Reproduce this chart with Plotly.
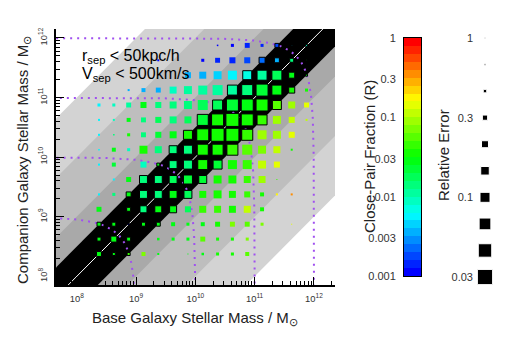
import colorsys

import numpy as np
import plotly.graph_objects as go

# the page body has an 8px margin, so the figure is drawn 8px smaller and
# every reference pixel position is shifted by that offset
W, H, OFF = 504, 334, 8
FONT = 'Liberation Sans, Arial, sans-serif'
PURPLE = '#a050f0'

# log10 stellar mass at the centre of each grid bin
mass_bins = [8.375, 8.625, 8.875, 9.125, 9.375, 9.625, 9.875, 10.125,
             10.375, 10.625, 10.875, 11.125, 11.375, 11.625, 11.875]

_ = None
# close-pair fraction R, one row per companion-mass bin (first row = top, 11.875)
# columns follow base-mass bins 8.375 -> 11.875, None = empty bin
frac_rows = [
    [_, _, _, _, _, _, _, _, .0012, .0012, .0014, .0014, .0016, .004, .008],
    [_, _, _, _, .0012, _, _, .0012, .0013, .0015, .0018, .0024, .0038, .015, .02],
    [_, _, _, _, _, _, .0036, .0039, .0047, .0056, .0077, .012, .016, .03, .03],
    [_, _, .0036, .0036, .0036, .0087, .011, .011, .011, .012, .013, .02, .03, .032, .032],
    [.0056, .0087, .011, .03, .013, .013, .013, .016, .016, .02, .03, .032, .06, .094, .13],
    [.0056, .0087, .03, .013, .016, .013, .016, .02, .032, .032, .032, .049, .084, .115, .1],
    [.0056, .013, .032, .013, .02, .03, .032, .032, .032, .032, .049, .084, .094, .13, _],
    [.0056, .03, .0087, .032, .013, .013, .013, .032, .032, .04, .061, .075, .115, .032, _],
    [.0056, .025, _, .0087, .03, .013, .013, .032, .02, .032, .049, .1, .14, _, _],
    [_, .0056, .03, .013, .013, .016, .02, .025, .032, .032, .049, .094, .04, _, _],
    [.0056, .013, .03, .013, .013, .03, .016, .032, .032, .032, .049, .035, .178, .35, _],
    [.03, _, .03, .013, .03, .03, .016, .049, .049, .032, .115, .035, _, _, _],
    [.03, .03, .0012, .03, .03, .03, .03, .03, .032, .065, .061, .075, _, .15, _],
    [.03, .03, .03, _, .03, .03, .03, .055, .032, .032, .075, _, _, _, _],
    [.03, .03, .049, .075, .03, _, .03, .03, .032, .032, .061, _, _, _, _],
]

# relative error of each bin, same layout
err_rows = [
    [_, _, _, _, _, _, _, _, .7, .5, .32, .5, .4, .8, .63],
    [_, _, _, _, .63, _, _, .5, .32, .25, .25, .25, .32, .4, .8],
    [_, _, _, _, _, _, .25, .2, .16, .126, .126, .1, .1, .25, .63],
    [_, _, .63, .4, .32, .2, .16, .126, .1, .1, .079, .063, .1, .25, .5],
    [.5, .5, .32, .25, .25, .2, .16, .1, .1, .063, .063, .063, .126, .2, .32],
    [.63, .63, .4, .32, .25, .2, .2, .079, .063, .05, .063, .1, .16, .25, .63],
    [.63, .7, .5, .32, .25, .2, .126, .063, .05, .05, .079, .126, .16, .25, _],
    [.7, .4, .5, .16, .2, .16, .126, .079, .079, .079, .1, .16, .2, .63, _],
    [.63, .4, _, .25, .5, .16, .126, .1, .126, .126, .126, .16, .25, _, _],
    [_, .63, .32, .16, .16, .16, .126, .16, .16, .16, .2, .2, .8, _, _],
    [.63, .5, .32, .16, .16, .16, .16, .2, .16, .2, .25, .4, .63, .63, _],
    [.32, _, .4, .2, .2, .2, .25, .2, .2, .2, .2, .4, _, _, _],
    [.4, .4, .7, .4, .4, .4, .5, .4, .32, .32, .32, .5, _, .8, _],
    [.4, .25, .4, _, .56, .5, .5, .32, .5, .5, .5, _, _, _, _],
    [.32, .5, .5, .4, .63, _, .8, .56, .5, .5, .4, _, _, _, _],
]

# grey bands: limits on |log(M_comp / M_base)| and their shade
band_limits = [3.0, 2.0, 1.0, 0.5]
band_colours = ['#d3d3d3', '#bebebe', '#a9a9a9', 'black']

# total-mass loci (M_base + M_comp) drawn as dotted curves
total_masses = [1e9, 1e10, 1e11, 1e12]

cbar_ticks = [1, 0.3, 0.1, 0.03, 0.01, 0.003, 0.001]
cbar_labels = ['1', '0.3', '0.1', '0.03', '0.01', '0.003', '0.001']

legend_err = [1, 0.67, 0.45, 0.3, 0.2, 0.14, 0.1, 0.067, 0.045, 0.03]
legend_tick_pos = [0, 3, 6, 9]
legend_tick_text = ['1', '0.3', '0.1', '0.03']


def px(x):
    return (x - OFF) / W


def py(y):
    return 1 - (y - OFF) / H


def err_size(e):
    return max(-10 * np.log10(e), 1.0)


# stepped hue scale, blue (R=0.001) -> red (R=1), 30 steps
n_steps = 30
colorscale = []
for i in range(n_steps):
    r, g, b = colorsys.hsv_to_rgb((240 - 240 * i / (n_steps - 1)) / 360, 1, 1)
    c = 'rgb(%d,%d,%d)' % (round(r * 255), round(g * 255), round(b * 255))
    colorscale += [[i / n_steps, c], [(i + 1) / n_steps, c]]

fig = go.Figure()

# bands
lo, hi = 6, 14
for d, colour in zip(band_limits, band_colours):
    fig.add_trace(go.Scatter(
        x=[10**lo, 10**hi, 10**hi, 10**lo],
        y=[10**(lo + d), 10**(hi + d), 10**(hi - d), 10**(lo - d)],
        mode='lines', fill='toself', fillcolor=colour, line=dict(width=0),
        hoverinfo='skip'))

# one-to-one line
fig.add_trace(go.Scatter(x=[10**lo, 10**hi], y=[10**lo, 10**hi], mode='lines',
                         line=dict(color='white', width=1)))

# constant total mass
share = 1 / (1 + 10**-np.linspace(-6, 6, 600))
for m in total_masses:
    fig.add_trace(go.Scatter(x=m * share, y=m * (1 - share), mode='lines',
                             line=dict(color=PURPLE, width=2, dash='2px,5px')))

# grid squares
xs, ys, cs, ss, lw = [], [], [], [], []
nb = len(mass_bins)
for row, (frow, erow) in enumerate(zip(frac_rows, err_rows)):
    j = nb - 1 - row
    for k, (f, e) in enumerate(zip(frow, erow)):
        if f is None:
            continue
        xs.append(10**mass_bins[k])
        ys.append(10**mass_bins[j])
        cs.append(np.log10(f))
        ss.append(err_size(e))
        lw.append(1 if abs(j - k) <= 2 else 0)

fig.add_trace(go.Scatter(
    x=xs, y=ys, mode='markers',
    marker=dict(symbol='square', size=ss, color=cs, colorscale=colorscale,
                cmin=-3, cmax=0, opacity=1, line=dict(color='black', width=lw))))

# colour bar as its own little heatmap
centres = [-3 + 0.1 * (i + 0.5) for i in range(n_steps)]
fig.add_trace(go.Heatmap(z=[[c] for c in centres], x=[0], y=centres,
                         colorscale=colorscale, zmin=-3, zmax=0, showscale=False,
                         xaxis='x3', yaxis='y3'))

# size key
fig.add_trace(go.Scatter(x=[0] * len(legend_err), y=list(range(len(legend_err))),
                         mode='markers', xaxis='x4', yaxis='y4',
                         marker=dict(symbol='square', color='black', opacity=1,
                                     size=[err_size(e) for e in legend_err])))

tickfont = dict(family=FONT, size=7.5, color='#333')
common = dict(type='log', showline=True, linecolor='black', linewidth=1.5,
              ticks='inside', ticklen=8, tickcolor='black', dtick=1,
              exponentformat='power', showexponent='all', tickfont=tickfont,
              showgrid=False, zeroline=False, automargin=False,
              minor=dict(ticks='inside', ticklen=4, dtick='D1', tickcolor='black'))

xdom = [px(56), px(335)]
ydom = [py(285), py(29)]
xrange_ = [7.65, 12.355]
yrange_ = [7.855, 12.15]

fig.update_layout(
    width=W, height=H, margin=dict(l=0, r=0, t=0, b=0, autoexpand=False),
    paper_bgcolor='white', plot_bgcolor='white', showlegend=False,
    font=dict(family=FONT, color='black'),
    xaxis=dict(domain=xdom, range=xrange_, anchor='y', side='bottom',
               ticklabelstandoff=4, **common),
    xaxis2=dict(domain=xdom, range=xrange_, anchor='y', side='top', overlaying='x',
                ticklabelstandoff=4, **common),
    yaxis=dict(domain=ydom, range=yrange_, anchor='x', side='left', tickangle=-90,
               ticklabelstandoff=4, **common),
    yaxis2=dict(domain=ydom, range=yrange_, anchor='x', side='right', overlaying='y',
                tickangle=-90, ticklabelstandoff=4, **common),
    xaxis3=dict(domain=[px(404), px(421)], anchor='y3', range=[-0.5, 0.5],
                showticklabels=False, ticks='', showline=True, mirror=True,
                linecolor='black', linewidth=1, showgrid=False, zeroline=False,
                automargin=False),
    yaxis3=dict(domain=[py(276), py(38)], anchor='x3', range=[-3, 0],
                tickvals=list(np.log10(cbar_ticks)), ticktext=cbar_labels,
                ticks='', showline=True, mirror=True, linecolor='black', linewidth=1,
                showgrid=False, zeroline=False, ticklabelstandoff=5, automargin=False,
                tickfont=dict(family=FONT, size=11, color='#333')),
    xaxis4=dict(domain=[px(477), px(493)], anchor='y4', range=[-1, 1], visible=False,
                automargin=False),
    yaxis4=dict(domain=[py(285), py(30)], anchor='x4', range=[9.3, -0.3],
                tickvals=legend_tick_pos, ticktext=legend_tick_text, ticks='',
                showline=False, showgrid=False, zeroline=False, ticklabelstandoff=3,
                automargin=False, tickfont=dict(family=FONT, size=11, color='#333')),
)

title_font = dict(family=FONT, size=15, color='#222')
notes = [
    dict(x=px(195), y=py(318), text='Base Galaxy Stellar Mass / M<sub>⊙</sub>'),
    dict(x=px(23), y=py(160), text='Companion Galaxy Stellar Mass / M<sub>⊙</sub>',
         textangle=-90),
    dict(x=px(369), y=py(157), text='Close-Pair Fraction (R)', textangle=-90),
    dict(x=px(443), y=py(155), text='Relative Error', textangle=-90),
]
for n in notes:
    fig.add_annotation(xref='paper', yref='paper', showarrow=False,
                       xanchor='center', yanchor='middle', font=title_font, **n)

for text, y in [('r<sub>sep</sub> < 50kpc/h', 56), ('V<sub>sep</sub> < 500km/s', 75)]:
    fig.add_annotation(xref='paper', yref='paper', x=px(80), y=py(y), text=text,
                       showarrow=False, xanchor='left', yanchor='middle',
                       font=dict(family=FONT, size=16, color='black'))

fig.write_html('out.html')
